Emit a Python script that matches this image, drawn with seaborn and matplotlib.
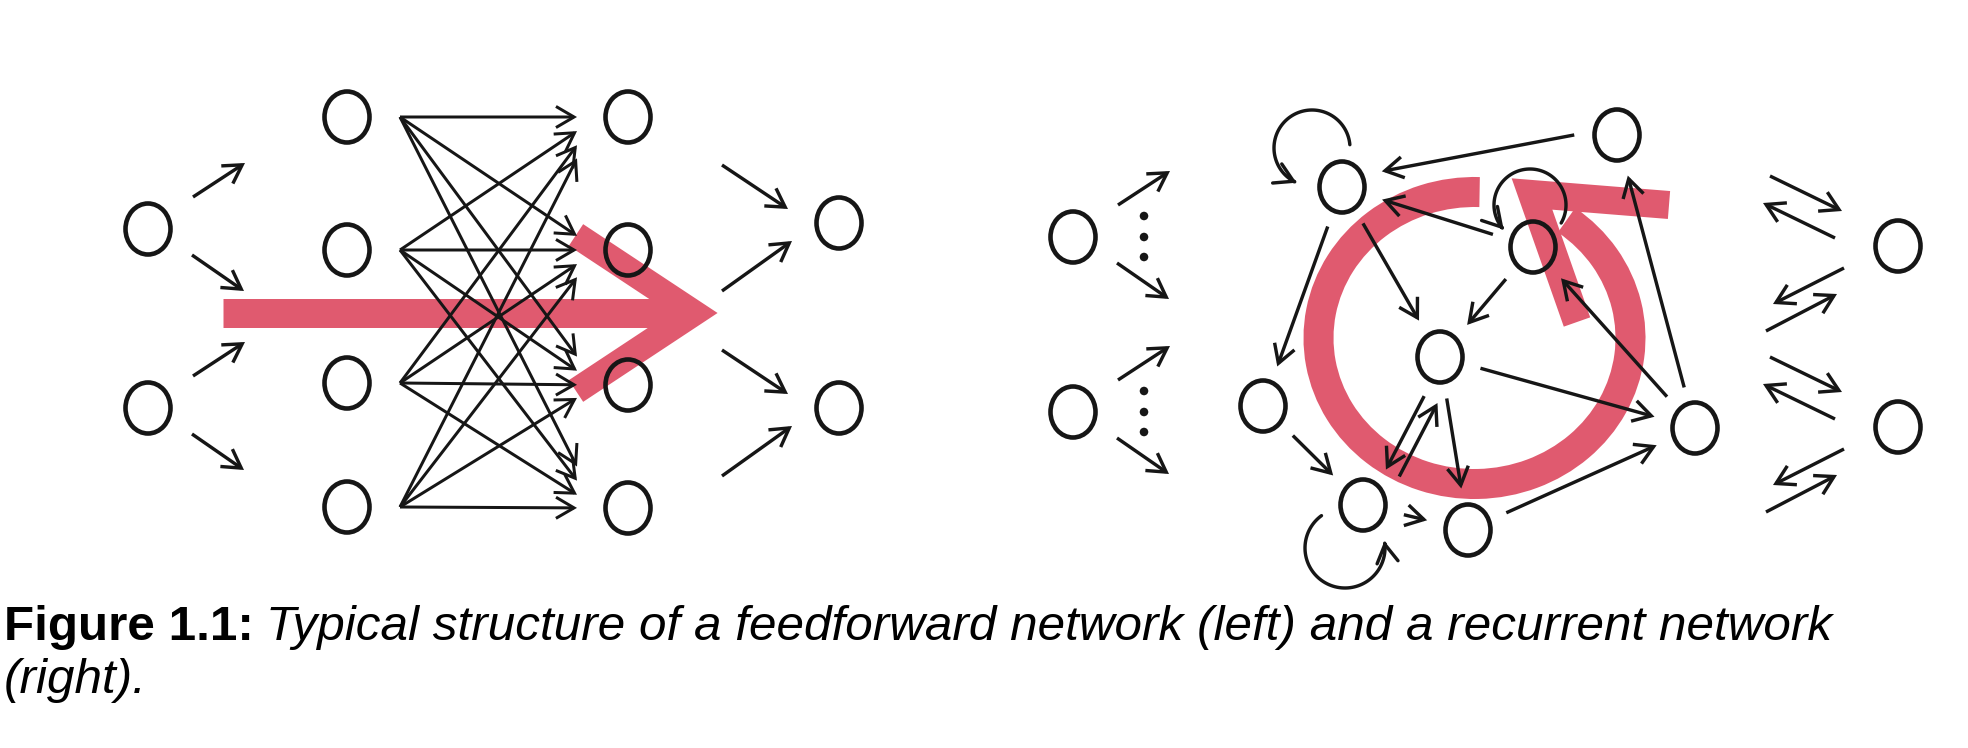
import numpy as np
import pandas as pd
import matplotlib
matplotlib.use("Agg")
import matplotlib.pyplot as plt
import seaborn as sns
from matplotlib.patches import Ellipse, FancyArrowPatch, Arc, ArrowStyle
from matplotlib.path import Path

sns.set_theme(style="white")
plt.rcParams['font.family'] = ['Liberation Sans', 'DejaVu Sans']

W, H = 1968, 748
INK = "#161616"
RED = "#E05A6F"

# ---------------- data: node positions (image pixels) ----------------
ff_input_x, ff_input_y = 148, [229, 408]
ff_hidden1_x, ff_hidden1_y = 347, [117, 250, 383, 507]
ff_hidden2_x, ff_hidden2_y = 628, [117, 250, 385, 508]
ff_output_x, ff_output_y = 839, [223, 408]

rn_input_x, rn_input_y = 1073, [237, 412]
rn_names = ["A", "B", "C", "D", "E", "F", "G", "H"]
rn_x = [1342, 1617, 1533, 1440, 1263, 1363, 1468, 1695]
rn_y = [187, 135, 247, 357, 406, 505, 530, 428]
rn_edges_src = ["B", "C", "A", "A", "C", "H", "H", "D", "D", "F", "D", "E", "F", "G"]
rn_edges_dst = ["A", "A", "E", "D", "D", "C", "B", "H", "F", "D", "G", "F", "G", "H"]
rn_loops = ["A", "C", "F"]
rn_output_x, rn_output_y = 1898, [246, 427]

caption_bold = "Figure 1.1:"
caption_line1 = "Typical structure of a feedforward network (left) and a recurrent network"
caption_line2 = "(right)."

# ---------------- figure ----------------
fig = plt.figure(figsize=(W / 100, H / 100), dpi=100)
ax = fig.add_axes([0, 0, 1, 1])
ax.set_xlim(0, W)
ax.set_ylim(H, 0)
ax.axis("off")

PX = 0.72  # points per pixel
NODE_W, NODE_H = 45, 51
LW = 3.4
head = ArrowStyle("->", head_length=0.65, head_width=0.38)


def node(x, y):
    ax.add_patch(Ellipse((x, y), NODE_W, NODE_H, fill=False, lw=4.6 * PX,
                         edgecolor=INK, zorder=5))


def arrow(p0, p1, lw=LW):
    ax.add_patch(FancyArrowPatch(p0, p1, arrowstyle=head, mutation_scale=20,
                                 lw=lw * PX, color=INK, shrinkA=0, shrinkB=0,
                                 zorder=4, capstyle="butt", joinstyle="miter"))


def loop(cx, cy, r, t0, t1):
    t = np.radians(np.linspace(t0, t1, 80))
    verts = np.column_stack([cx + r * np.cos(t), cy - r * np.sin(t)])
    ax.add_patch(FancyArrowPatch(path=Path(verts), arrowstyle=head,
                                 mutation_scale=20, lw=LW * PX, color=INK,
                                 zorder=4))


def stub(x, y, d0, d1):
    arrow((x + d0[0], y + d0[1]), (x + d1[0], y + d1[1]))


# ---------------- feedforward network ----------------
# red arrow (underneath)
ax.plot([223, 686], [312.5, 312.5], color=RED, lw=29 * PX,
        solid_capstyle="butt", zorder=1)
ax.plot([576, 694, 576], [235, 313, 391], color=RED, lw=26 * PX,
        solid_capstyle="butt", solid_joinstyle="miter", zorder=1)

for y in ff_input_y:
    node(ff_input_x, y)
    stub(ff_input_x, y, (45, -32), (97, -66))
    stub(ff_input_x, y, (44, 26), (96, 62))
for y in ff_hidden1_y:
    node(ff_hidden1_x, y)
for y in ff_hidden2_y:
    node(ff_hidden2_x, y)
for y in ff_output_y:
    node(ff_output_x, y)
    stub(ff_output_x, y, (-117, -58), (-51, -14))
    stub(ff_output_x, y, (-117, 68), (-47, 18))

sx0 = ff_hidden1_x + 53
aim_x, end_x = 598, 577
for sy in ff_hidden1_y:
    for ty in ff_hidden2_y:
        f = (end_x - sx0) / (aim_x - sx0)
        arrow((sx0, sy), (sx0 + f * (aim_x - sx0), sy + f * (ty - sy)), lw=3.0)

# ---------------- recurrent network ----------------
pos = dict(zip(rn_names, zip(rn_x, rn_y)))

# red ring with arrow head (underneath)
ax.add_patch(Arc((1474.5, 338), 312, 292, theta1=-52, theta2=272,
                 lw=30 * PX, edgecolor=RED, zorder=1, capstyle="butt"))
ax.plot([1669, 1532, 1577], [205, 194, 322], color=RED, lw=28 * PX,
        solid_capstyle="butt", solid_joinstyle="miter", zorder=1)

for y in rn_input_y:
    node(rn_input_x, y)
    stub(rn_input_x, y, (45, -32), (97, -66))
    stub(rn_input_x, y, (44, 26), (96, 62))
dots = pd.DataFrame({"x": [rn_input_x + 71] * 6,
                     "y": [y + d for y in rn_input_y for d in (-21, 0, 20)]})
sns.scatterplot(data=dots, x="x", y="y", ax=ax, s=38, color=INK,
                edgecolor="none", zorder=6, legend=False)
ax.set_xlim(0, W)
ax.set_ylim(H, 0)
ax.axis("off")

for n in rn_names:
    node(*pos[n])

pair_offset = {("D", "F"): -4, ("F", "D"): 19, ("B", "A"): 8}
for s, d in zip(rn_edges_src, rn_edges_dst):
    p = np.array(pos[s], float)
    q = np.array(pos[d], float)
    v = q - p
    L = np.hypot(*v)
    u = v / L
    nrm = np.array([-u[1], u[0]])
    off = pair_offset.get((s, d), 0)
    a = p + u * 42 + nrm * off
    b = q - u * 42 + nrm * off
    arrow(tuple(a), tuple(b))

loop_geom = {"A": (-30, -39, 38, 5, 246),
             "C": (-3, -42, 36, -30, 223),
             "F": (-18, 43, 40, 126, 370)}
for n in rn_loops:
    dx, dy, r, t0, t1 = loop_geom[n]
    loop(pos[n][0] + dx, pos[n][1] + dy, r, t0, t1)

for y in rn_output_y:
    node(rn_output_x, y)
    stub(rn_output_x, y, (-128, -70), (-56, -35))
    stub(rn_output_x, y, (-63, -8), (-135, -43))
    stub(rn_output_x, y, (-54, 22), (-125, 58))
    stub(rn_output_x, y, (-132, 85), (-61, 48))

# ---------------- caption ----------------
FS = 35.6
t_bold = fig.text(4 / W, 1 - 640 / H, caption_bold, fontsize=FS, fontweight="bold",
                  va="baseline", ha="left", color="black")
fig.canvas.draw()
bb = t_bold.get_window_extent(renderer=fig.canvas.get_renderer())
fig.text((bb.x1 + 12) / W, 1 - 640 / H, caption_line1, fontsize=FS,
         fontstyle="italic", va="baseline", ha="left", color="black")
fig.text(4 / W, 1 - 693 / H, caption_line2, fontsize=FS, fontstyle="italic",
         va="baseline", ha="left", color="black")

fig.savefig("out.png", dpi=100, facecolor="white")
